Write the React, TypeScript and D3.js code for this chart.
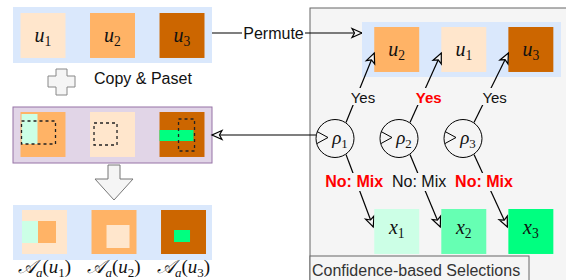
import React from 'react';
import * as d3 from 'd3';

// unlabeled pieces of the diagram
const subs = ['1', '2', '3'];
const uColors = ['#FFE6CC', '#FFB366', '#CC6600'];
const xColors = ['#CCFFE6', '#66FFB3', '#00FF80'];
const permOrder = [1, 0, 2];
const yesRed = [false, true, false];
const noRed = [true, false, true];

const W = 566, H = 280;
const PANEL = '#F5F5F5';
const BLUE = '#DAE8FC';

function MathU({ x, y, base, sub, size = 20, anchor = 'middle' }: any) {
  return (
    <text x={x} y={y} textAnchor={anchor} fontFamily="'Liberation Serif', 'DejaVu Serif', serif"
      fontStyle="italic" fontSize={size} fill="#111">
      {base}
      <tspan fontSize={size * 0.68} fontStyle="normal" dy={size * 0.22}>{sub}</tspan>
    </text>
  );
}

export default function App() {
  const left = d3.scaleBand<number>().domain([0, 1, 2]).range([13, 212]).paddingInner(0.353).paddingOuter(0.108);
  const right = d3.scaleBand<number>().domain([0, 1, 2]).range([367, 559]).paddingInner(0.353).paddingOuter(0.108);
  const circ = d3.scalePoint<number>().domain([0, 1, 2]).range([335, 463]);
  const bw = left.bandwidth();
  const r = 19, cy = 138.5;
  const sans = "'Liberation Sans', Arial, Helvetica, sans-serif";

  // middle row patches (relative to box)
  const midPatch = [
    { fill: xColors[0], r: [1, 2, 16, 30], dash: [1, 9, 34, 23] },
    { fill: null, r: null, dash: [4, 11, 23, 22] },
    { fill: xColors[2], r: [0, 18, 34, 11], dash: [19, 7, 16, 32] },
  ];
  // bottom row inner patches
  const botPatch = [
    [{ fill: xColors[0], r: [0, 11, 16, 22] }, { fill: uColors[1], r: [16, 11, 18, 22] }],
    [{ fill: uColors[0], r: [15, 15, 23, 23] }],
    [{ fill: xColors[2], r: [13, 20, 16, 12] }],
  ];

  return (
    <svg width={W} height={H} style={{ position: 'absolute', left: 0, top: 0, background: '#fff' }}>
      <defs>
        <marker id="arr" markerUnits="userSpaceOnUse" markerWidth={12} markerHeight={12}
          refX={10} refY={4.5} orient="auto" overflow="visible">
          <path d="M0,0 L10,4.5 L0,9 L2.5,4.5 Z" fill={PANEL} stroke="#000" strokeWidth={1.2} />
        </marker>
      </defs>

      {/* right panel */}
      <rect x={310} y={8} width={270} height={290} fill={PANEL} stroke="#666" />
      <rect x={310} y={256} width={219} height={30} fill={PANEL} stroke="#666" />
      <text x={312} y={276} fontFamily={sans} fontSize={16} fill="#333">Confidence-based Selections</text>

      {/* top row */}
      <rect x={13} y={7} width={199} height={56} fill={BLUE} />
      {subs.map((s, i) => (
        <g key={'t' + i}>
          <rect x={left(i)} y={13} width={bw} height={bw} fill={uColors[i]} />
          <MathU x={left(i)! + bw / 2} y={42} base="u" sub={s} />
        </g>
      ))}

      {/* copy & paste */}
      <path d="M56,69 H67 V76 H75 V87 H67 V95 H56 V87 H48 V76 H56 Z" fill={PANEL} stroke="#888" strokeWidth={1} />
      <text x={94} y={84} fontFamily={sans} fontSize={16} fill="#111">Copy &amp; Paset</text>

      {/* middle row */}
      <rect x={13} y={107} width={199} height={56} fill="#E1D5E7" stroke="#9673A6" />
      {permOrder.map((p, i) => {
        const bx = left(i)!, by = 112;
        const m = midPatch[i];
        return (
          <g key={'m' + i}>
            <rect x={bx} y={by} width={bw} height={bw} fill={uColors[p]} />
            {m.r && <rect x={bx + m.r[0]} y={by + m.r[1]} width={m.r[2]} height={m.r[3]} fill={m.fill!} />}
            <rect x={bx + m.dash[0]} y={by + m.dash[1]} width={m.dash[2]} height={m.dash[3]}
              fill="none" stroke="#222" strokeWidth={1.3} strokeDasharray="3 3" />
          </g>
        );
      })}

      {/* down block arrow */}
      <path d="M108,165 H120 V179 H133 L114,200 L95,179 H108 Z" fill={PANEL} stroke="#777" strokeWidth={1} />

      {/* bottom row */}
      <rect x={13} y={205} width={199} height={55} fill={BLUE} />
      {subs.map((s, i) => {
        const bx = left(i)! + 1.5, by = 210;
        return (
          <g key={'b' + i}>
            <rect x={bx} y={by} width={bw} height={44} fill={uColors[i]} />
            {botPatch[i].map((q, j) => (
              <rect key={j} x={bx + q.r[0]} y={by + q.r[1]} width={q.r[2]} height={q.r[3]} fill={q.fill} />
            ))}
            <text x={bx + bw / 2} y={273} textAnchor="middle" fontFamily="'Liberation Serif', 'DejaVu Serif', serif" fontSize={19} fill="#111">
              <tspan fontFamily="'DejaVu Serif', serif" fontStyle="italic">𝒜</tspan>
              <tspan fontSize={13} fontStyle="italic" dy={4}>a</tspan>
              <tspan dy={-4}>(</tspan>
              <tspan fontStyle="italic">u</tspan>
              <tspan fontSize={13} dy={4}>{s}</tspan>
              <tspan dy={-4}>)</tspan>
            </text>
          </g>
        );
      })}

      {/* permute arrow */}
      <line x1={212} y1={33} x2={362} y2={33} stroke="#000" strokeWidth={1.2} markerEnd="url(#arr)" />
      <rect x={242} y={24} width={63} height={18} fill="#fff" />
      <text x={273.5} y={39} textAnchor="middle" fontFamily={sans} fontSize={16} fill="#111">Permute</text>

      {/* back arrow */}
      <line x1={316} y1={135} x2={212} y2={135} stroke="#000" strokeWidth={1.2} markerEnd="url(#arr)" />

      {/* permuted row */}
      <rect x={362} y={22} width={199} height={55} fill={BLUE} />
      {permOrder.map((p, i) => (
        <g key={'p' + i}>
          <rect x={right(i)} y={27} width={bw} height={bw} fill={uColors[p]} />
          <MathU x={right(i)! + bw / 2} y={56} base="u" sub={subs[p]} />
        </g>
      ))}

      {/* selections */}
      {subs.map((s, i) => {
        const cx = circ(i)!;
        const bx = right(i)!;
        const yes = { x1: cx + 11, y1: cy - 16, x2: bx, y2: 53 };
        const no = { x1: cx + 11, y1: cy + 16, x2: bx - 1, y2: 227 };
        const yl = yes.x1 + (yes.x2 - yes.x1) * 0.6;
        const nl = no.x1 + (no.x2 - no.x1) * 0.3;
        return (
          <g key={'s' + i}>
            <line {...yes} stroke="#000" strokeWidth={1.2} markerEnd="url(#arr)" />
            <line {...no} stroke="#000" strokeWidth={1.2} markerEnd="url(#arr)" />
            <circle cx={cx} cy={cy} r={r} fill={PANEL} stroke="#000" strokeWidth={1} />
            <path d={`M${cx - 18},${cy - 7} L${cx - 7},${cy - 1} L${cx - 18},${cy + 5}`} fill="none" stroke="#000" strokeWidth={1} />
            <MathU x={cx + 5} y={cy + 5} base="ρ" sub={s} size={19} />
            <rect x={yl - 14} y={88} width={28} height={17} fill={PANEL} />
            <text x={yl} y={103} textAnchor="middle" fontFamily={sans} fontSize={15}
              fontWeight={yesRed[i] ? 'bold' : 'normal'} fill={yesRed[i] ? '#FF0000' : '#111'}>Yes</text>
            <rect x={nl - 28} y={173} width={56} height={18} fill={PANEL} />
            <text x={nl} y={187} textAnchor="middle" fontFamily={sans} fontSize={16}
              fontWeight={noRed[i] ? 'bold' : 'normal'} fill={noRed[i] ? '#FF0000' : '#111'}>No: Mix</text>
            <rect x={bx} y={209} width={bw} height={bw} fill={xColors[i]} />
            <MathU x={bx + bw / 2} y={234} base="x" sub={s} />
          </g>
        );
      })}
    </svg>
  );
}
